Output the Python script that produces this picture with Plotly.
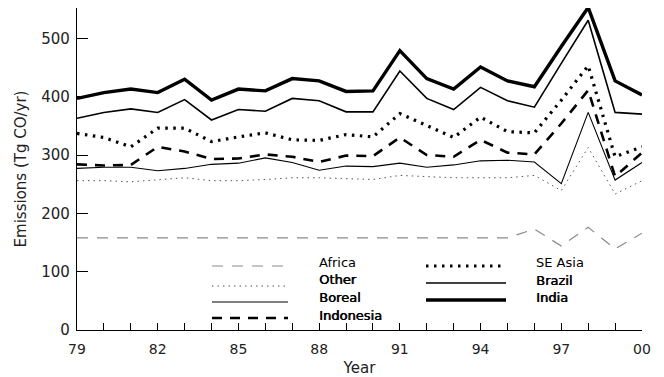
import plotly.graph_objects as go

years = list(range(1979, 2001))
tick_labels = ["79", "82", "85", "88", "91", "94", "97", "00"]

africa = [158]*17 + [173, 144, 176, 139, 166]
other = [256, 256, 254, 257, 261, 256, 256, 258, 261, 261, 260, 258, 265, 263, 261, 261, 261, 265, 239, 313, 233, 256]
boreal = [277, 279, 279, 273, 277, 284, 286, 295, 287, 274, 281, 280, 286, 279, 283, 290, 291, 288, 251, 373, 257, 287]
indonesia = [284, 282, 283, 314, 306, 293, 294, 301, 297, 288, 299, 298, 330, 300, 297, 326, 304, 301, 354, 411, 263, 304]
se_asia = [337, 330, 314, 346, 346, 323, 331, 338, 326, 325, 335, 331, 371, 351, 330, 365, 340, 338, 394, 453, 297, 314]
brazil = [363, 373, 379, 373, 395, 360, 378, 375, 397, 393, 374, 374, 444, 397, 378, 416, 393, 382, 457, 531, 373, 370]
india = [397, 407, 413, 407, 430, 394, 413, 410, 431, 427, 409, 410, 479, 431, 413, 451, 427, 417, 486, 553, 427, 403]

names = ["Africa", "Other", "Boreal", "Indonesia", "SE Asia", "Brazil", "India"]
series = [africa, other, boreal, indonesia, se_asia, brazil, india]
styles = [
    dict(color="#8a8a8a", width=1.2, dash="11px,9px"),
    dict(color="#555555", width=1.0, dash="1.5px,4px"),
    dict(color="black", width=1.1, dash="solid"),
    dict(color="black", width=2.6, dash="10px,8px"),
    dict(color="black", width=3.2, dash="2.5px,5.5px"),
    dict(color="black", width=1.6, dash="solid"),
    dict(color="black", width=3.4, dash="solid"),
]
bold = [False, True, True, True, False, True, True]

W, H = 664, 377
L, R, T, B = 77, 22, 8, 47
pw, ph = W - L - R, H - T - B

fig = go.Figure()
for n, s, st in zip(names, series, styles):
    fig.add_trace(go.Scatter(x=years, y=s, mode="lines", name=n, line=st, showlegend=False))

def px(x):
    return (x - L) / pw

def py(y):
    return (H - B - y) / ph

# manual legend: (line x0, x1, label x, line y, label y)
legend_pos = [
    (212, 288, 317, 266, 262),
    (212, 288, 317, 286, 279.5),
    (212, 288, 317, 302, 297),
    (212, 288, 317, 318, 315),
    (426, 506, 534, 266, 262.5),
    (426, 506, 534, 283, 280),
    (426, 506, 534, 300, 297),
]
for n, st, b, (x0, x1, lx, ly, ty) in zip(names, styles, bold, legend_pos):
    fig.add_shape(type="line", xref="paper", yref="paper", x0=px(x0), x1=px(x1), y0=py(ly), y1=py(ly),
                  line=dict(color=st["color"], width=st["width"], dash=st["dash"]))
    f = dict(size=13, color="black", family="DejaVu Sans")
    if b:
        f["shadow"] = "0.6px 0px 0px black"
    fig.add_annotation(xref="paper", yref="paper", x=px(lx), y=py(ty), text=n,
                       showarrow=False, xanchor="left", yanchor="middle", font=f)

ticktext = []
for y in years:
    ticktext.append(tick_labels[(y - 1979) // 3] if (y - 1979) % 3 == 0 else "")

fig.update_layout(
    width=W, height=H,
    margin=dict(l=L, r=R, t=T, b=B),
    plot_bgcolor="white", paper_bgcolor="white",
    font=dict(family="DejaVu Sans", size=14, color="#222222"),
    xaxis=dict(range=[1979, 2000], tickvals=years, ticktext=ticktext, ticks="inside", ticklen=7,
               tickwidth=1, tickcolor="black", showline=True, linecolor="black", linewidth=1.2,
               showgrid=False, zeroline=False, ticklabelstandoff=6, automargin=False,
               title=dict(text="Year", standoff=6, font=dict(size=15)),
               tickfont=dict(size=14)),
    yaxis=dict(range=[0, 552], tickvals=[0, 100, 200, 300, 400, 500], ticks="inside", ticklen=11,
               tickwidth=1, tickcolor="black", showline=True, linecolor="black", linewidth=1.2,
               showgrid=False, zeroline=False, ticklabelstandoff=3, automargin=False,
               title=dict(text="Emissions (Tg CO/yr)", standoff=11, font=dict(size=15)),
               tickfont=dict(size=15)),
)

fig.write_html("out.html")
